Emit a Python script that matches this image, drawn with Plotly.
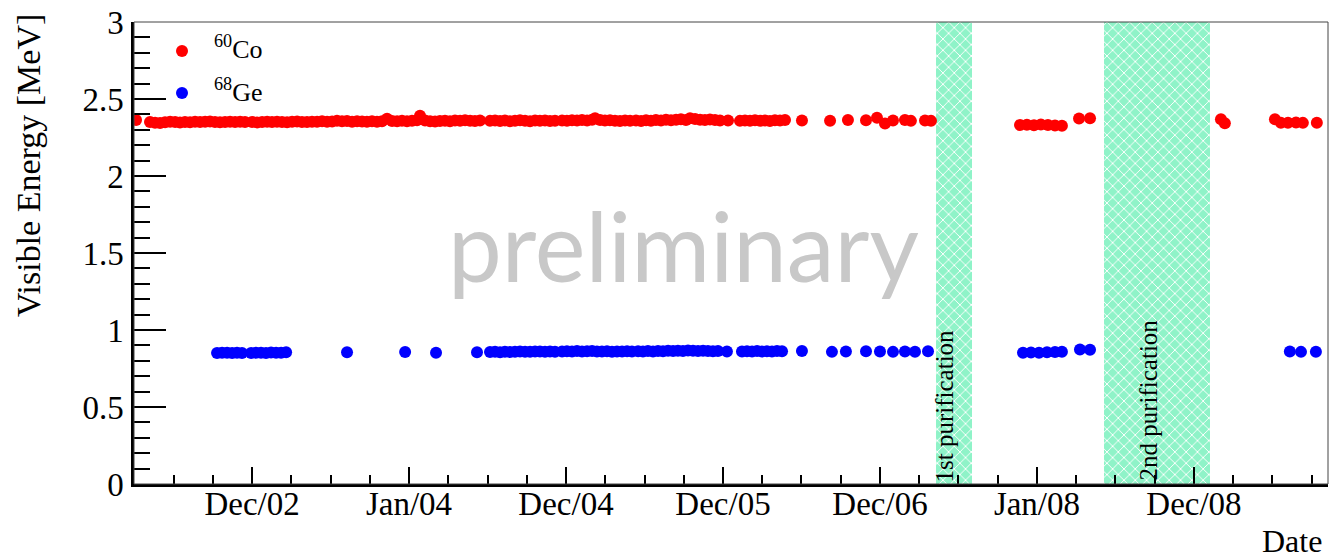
import plotly.graph_objects as go

# Calibration runs, time in decimal years
co_date = [
    2002.261, 2002.350, 2002.382, 2002.414, 2002.446, 2002.478, 2002.510, 2002.541,
    2002.573, 2002.605, 2002.637, 2002.669, 2002.701, 2002.732, 2002.764, 2002.796,
    2002.828, 2002.860, 2002.892, 2002.924, 2002.955,
    2003.000, 2003.032, 2003.064, 2003.096, 2003.127, 2003.159, 2003.191, 2003.223,
    2003.255, 2003.287, 2003.318, 2003.350, 2003.382, 2003.414, 2003.446, 2003.478,
    2003.510, 2003.541, 2003.573, 2003.605, 2003.637, 2003.669, 2003.701, 2003.732,
    2003.764, 2003.796, 2003.828, 2003.860, 2003.892, 2003.924, 2003.955, 2003.987,
    2004.019, 2004.051, 2004.070, 2004.102, 2004.134, 2004.166, 2004.197, 2004.229,
    2004.261, 2004.293, 2004.325, 2004.357, 2004.389, 2004.420, 2004.452,
    2004.516, 2004.548, 2004.580, 2004.611, 2004.643, 2004.675, 2004.707, 2004.739,
    2004.771, 2004.803, 2004.834, 2004.866, 2004.898, 2004.930,
    2004.975, 2005.006, 2005.038, 2005.070, 2005.102, 2005.134, 2005.166, 2005.185,
    2005.217, 2005.248, 2005.280, 2005.312, 2005.344, 2005.376, 2005.408,
    2005.446, 2005.478, 2005.510, 2005.541, 2005.573, 2005.605, 2005.637, 2005.669,
    2005.701, 2005.732, 2005.764, 2005.790, 2005.822, 2005.854, 2005.885, 2005.917,
    2005.949, 2005.981, 2006.032,
    2006.108, 2006.140, 2006.172, 2006.204, 2006.236, 2006.268, 2006.299, 2006.331,
    2006.363, 2006.395, 2006.503, 2006.682, 2006.796,
    2006.911, 2006.981, 2007.032, 2007.083, 2007.159, 2007.197, 2007.287, 2007.325,
    2007.892, 2007.936, 2007.981, 2008.025, 2008.070, 2008.115, 2008.159,
    2008.268, 2008.338,
    2009.172, 2009.197, 2009.516, 2009.554, 2009.599, 2009.650, 2009.694, 2009.783,
]
co_energy = [
    2.364, 2.350, 2.346, 2.344, 2.349, 2.352, 2.350, 2.348,
    2.351, 2.349, 2.353, 2.350, 2.352, 2.354, 2.350, 2.349,
    2.351, 2.353, 2.350, 2.352, 2.351,
    2.350, 2.348, 2.351, 2.352, 2.350, 2.353, 2.351, 2.349,
    2.352, 2.354, 2.351, 2.350, 2.353, 2.352, 2.355, 2.352,
    2.354, 2.358, 2.355, 2.357, 2.353, 2.356, 2.354, 2.352,
    2.356, 2.353, 2.355, 2.372, 2.357, 2.355, 2.358, 2.356,
    2.358, 2.362, 2.392, 2.360, 2.356, 2.354, 2.357, 2.359,
    2.356, 2.360, 2.358, 2.362, 2.359, 2.357, 2.360,
    2.358, 2.361, 2.357, 2.360, 2.356, 2.359, 2.362, 2.358,
    2.356, 2.360, 2.358, 2.361, 2.357, 2.359,
    2.360, 2.358, 2.362, 2.360, 2.364, 2.361, 2.366, 2.375,
    2.363, 2.360, 2.362, 2.359, 2.357, 2.361, 2.358,
    2.360, 2.357, 2.362, 2.359, 2.364, 2.361, 2.366, 2.362,
    2.365, 2.368, 2.364, 2.375, 2.370, 2.366, 2.363, 2.367,
    2.364, 2.361, 2.360,
    2.358, 2.361, 2.359, 2.362, 2.358, 2.360, 2.357, 2.362,
    2.360, 2.363, 2.361, 2.359, 2.364,
    2.362, 2.378, 2.341, 2.361, 2.363, 2.358, 2.360, 2.358,
    2.331, 2.333, 2.330, 2.334, 2.331, 2.328, 2.326,
    2.374, 2.375,
    2.368, 2.342, 2.368, 2.345, 2.346, 2.347, 2.345, 2.346,
]

ge_date = [
    2002.777, 2002.809, 2002.841, 2002.873, 2002.904, 2002.936,
    2002.994, 2003.025, 2003.057, 2003.089, 2003.121, 2003.153, 2003.185, 2003.217,
    2003.605, 2003.975, 2004.172, 2004.433,
    2004.516, 2004.548, 2004.580, 2004.611, 2004.643, 2004.675, 2004.707, 2004.739,
    2004.771, 2004.803, 2004.834, 2004.866, 2004.898, 2004.930,
    2004.975, 2005.006, 2005.038, 2005.070, 2005.102, 2005.134, 2005.166, 2005.197,
    2005.229, 2005.261, 2005.293, 2005.325, 2005.357, 2005.389, 2005.420,
    2005.459, 2005.490, 2005.522, 2005.554, 2005.586, 2005.618, 2005.650, 2005.682,
    2005.713, 2005.745, 2005.777, 2005.809, 2005.841, 2005.873, 2005.904, 2005.936,
    2005.968, 2006.025,
    2006.121, 2006.153, 2006.185, 2006.217, 2006.248, 2006.280, 2006.312, 2006.344,
    2006.376, 2006.503, 2006.694, 2006.783,
    2006.911, 2007.000, 2007.083, 2007.159, 2007.223, 2007.306,
    2007.911, 2007.962, 2008.013, 2008.064, 2008.115, 2008.159,
    2008.274, 2008.338,
    2009.611, 2009.682, 2009.777,
]
ge_energy = [
    0.851, 0.853, 0.852, 0.850, 0.852, 0.851,
    0.850, 0.852, 0.853, 0.851, 0.854, 0.852, 0.853, 0.855,
    0.855, 0.857, 0.852, 0.856,
    0.857, 0.858, 0.856, 0.859, 0.857, 0.858, 0.860, 0.858,
    0.859, 0.861, 0.860, 0.858, 0.860, 0.859,
    0.860, 0.862, 0.861, 0.863, 0.860, 0.862, 0.864, 0.861,
    0.860, 0.862, 0.859, 0.861, 0.860, 0.862, 0.861,
    0.862, 0.860, 0.863, 0.861, 0.864, 0.862, 0.865, 0.863,
    0.866, 0.864, 0.867, 0.865, 0.863, 0.866, 0.864, 0.862,
    0.863, 0.861,
    0.860, 0.862, 0.861, 0.863, 0.860, 0.862, 0.861, 0.863,
    0.862, 0.864, 0.858, 0.860,
    0.862, 0.860, 0.858, 0.861, 0.859, 0.862,
    0.852, 0.854, 0.853, 0.855, 0.857, 0.859,
    0.873, 0.872,
    0.860, 0.858, 0.859,
]

# Detector purification campaigns (start, end) in decimal years
purif_start = [2007.357, 2008.427]
purif_end = [2007.586, 2009.102]
purif_label = ["1st purification", "2nd purification"]
purif_label_x = [2007.414, 2008.713]

tick_pos = [2003.0, 2004.0, 2005.0, 2006.0, 2007.0, 2008.0, 2009.0]
tick_text = ["Dec/02", "Jan/04", "Dec/04", "Dec/05", "Dec/06", "Jan/08", "Dec/08"]

x_range = [2002.248, 2009.854]
y_range = [0, 3]

SERIF = "Liberation Serif, Times New Roman, serif"
BAND = "#8ff3c8"

fig = go.Figure()

# hatched purification periods
for s, e in zip(purif_start, purif_end):
    fig.add_trace(go.Bar(
        x=[(s + e) / 2], y=[y_range[1]], width=[e - s], base=0,
        marker=dict(color=BAND, line=dict(width=0),
                    pattern=dict(shape="x", fgcolor="white", bgcolor=BAND,
                                 size=8, solidity=0.22, fillmode="replace")),
        showlegend=False, hoverinfo="skip",
    ))

fig.add_trace(go.Scatter(
    x=co_date, y=co_energy, mode="markers", name="60Co",
    marker=dict(color="#ff0000", size=12, line=dict(width=0)),
    showlegend=False,
))
fig.add_trace(go.Scatter(
    x=ge_date, y=ge_energy, mode="markers", name="68Ge",
    marker=dict(color="#0000ff", size=12, line=dict(width=0)),
    showlegend=False,
))

L, R, T, B = 134, 3, 22, 74
W, H = 1331, 558
pw, ph = W - L - R, H - T - B


def px_x(p):
    return (p - L) / pw


def px_y(p):
    return (H - B - p) / ph


annotations = []
shapes = []

# watermark
annotations.append(dict(
    text="preliminary", xref="paper", yref="paper", x=px_x(683), y=px_y(244),
    xanchor="center", yanchor="middle", showarrow=False,
    font=dict(family="Lato, sans-serif", size=96, color="#c8c8c8"),
))

# purification labels
for lx, lab, yb in zip(purif_label_x, purif_label, [0.0, 0.012]):
    annotations.append(dict(
        text=lab, x=lx, y=yb, xref="x", yref="y", textangle=-90,
        xanchor="center", yanchor="bottom", showarrow=False,
        font=dict(family=SERIF, size=25, color="black"),
    ))

# legend
for lab, col, yc in [("<sup>60</sup>Co", "#ff0000", 51), ("<sup>68</sup>Ge", "#0000ff", 93)]:
    shapes.append(dict(
        type="circle", xref="paper", yref="paper", xsizemode="pixel", ysizemode="pixel",
        xanchor=px_x(182), yanchor=px_y(yc), x0=-6, x1=6, y0=-6, y1=6,
        fillcolor=col, line=dict(width=0),
    ))
    annotations.append(dict(
        text=lab, xref="paper", yref="paper", x=px_x(212), y=px_y(yc - 3),
        xanchor="left", yanchor="middle", showarrow=False,
        font=dict(family=SERIF, size=26, color="black"),
    ))

# axis titles
annotations.append(dict(
    text="Visible Energy [MeV]", xref="paper", yref="paper", x=px_x(28), y=px_y(166),
    xanchor="center", yanchor="middle", textangle=-90, showarrow=False,
    font=dict(family=SERIF, size=34, color="black"),
))
annotations.append(dict(
    text="Date", xref="paper", yref="paper", x=px_x(1324), y=px_y(541),
    xanchor="right", yanchor="middle", showarrow=False,
    font=dict(family=SERIF, size=32, color="black"),
))

# thin frame on top and right
shapes.append(dict(type="rect", xref="paper", yref="paper", x0=0, x1=1, y0=0, y1=1,
                   line=dict(color="#444444", width=1), layer="above"))

fig.update_layout(
    width=W, height=H,
    margin=dict(l=L, r=R, t=T, b=B, pad=0),
    paper_bgcolor="white", plot_bgcolor="white",
    barmode="overlay", bargap=0,
    showlegend=False,
    annotations=annotations, shapes=shapes,
    font=dict(family=SERIF, color="black"),
)
fig.update_xaxes(
    range=x_range, tickmode="array", tickvals=tick_pos, ticktext=tick_text,
    ticks="inside", ticklen=17, tickwidth=1.5, tickcolor="black",
    minor=dict(ticks="inside", ticklen=9, tickwidth=1.5, tickcolor="black",
               dtick=0.25, tick0=2003.0, showgrid=False),
    showline=True, linecolor="black", linewidth=2.5,
    showgrid=False, zeroline=False,
    tickfont=dict(family=SERIF, size=33, color="black"),
    ticklabelstandoff=-11,
)
fig.update_yaxes(
    range=y_range, dtick=0.5, tick0=0,
    ticks="inside", ticklen=32, tickwidth=1.5, tickcolor="black",
    minor=dict(ticks="inside", ticklen=16, tickwidth=1.5, tickcolor="black",
               dtick=0.1, showgrid=False),
    showline=True, linecolor="black", linewidth=2.5,
    showgrid=False, zeroline=False,
    tickfont=dict(family=SERIF, size=33, color="black"),
    ticklabelstandoff=1,
)

fig.write_html("out.html")
